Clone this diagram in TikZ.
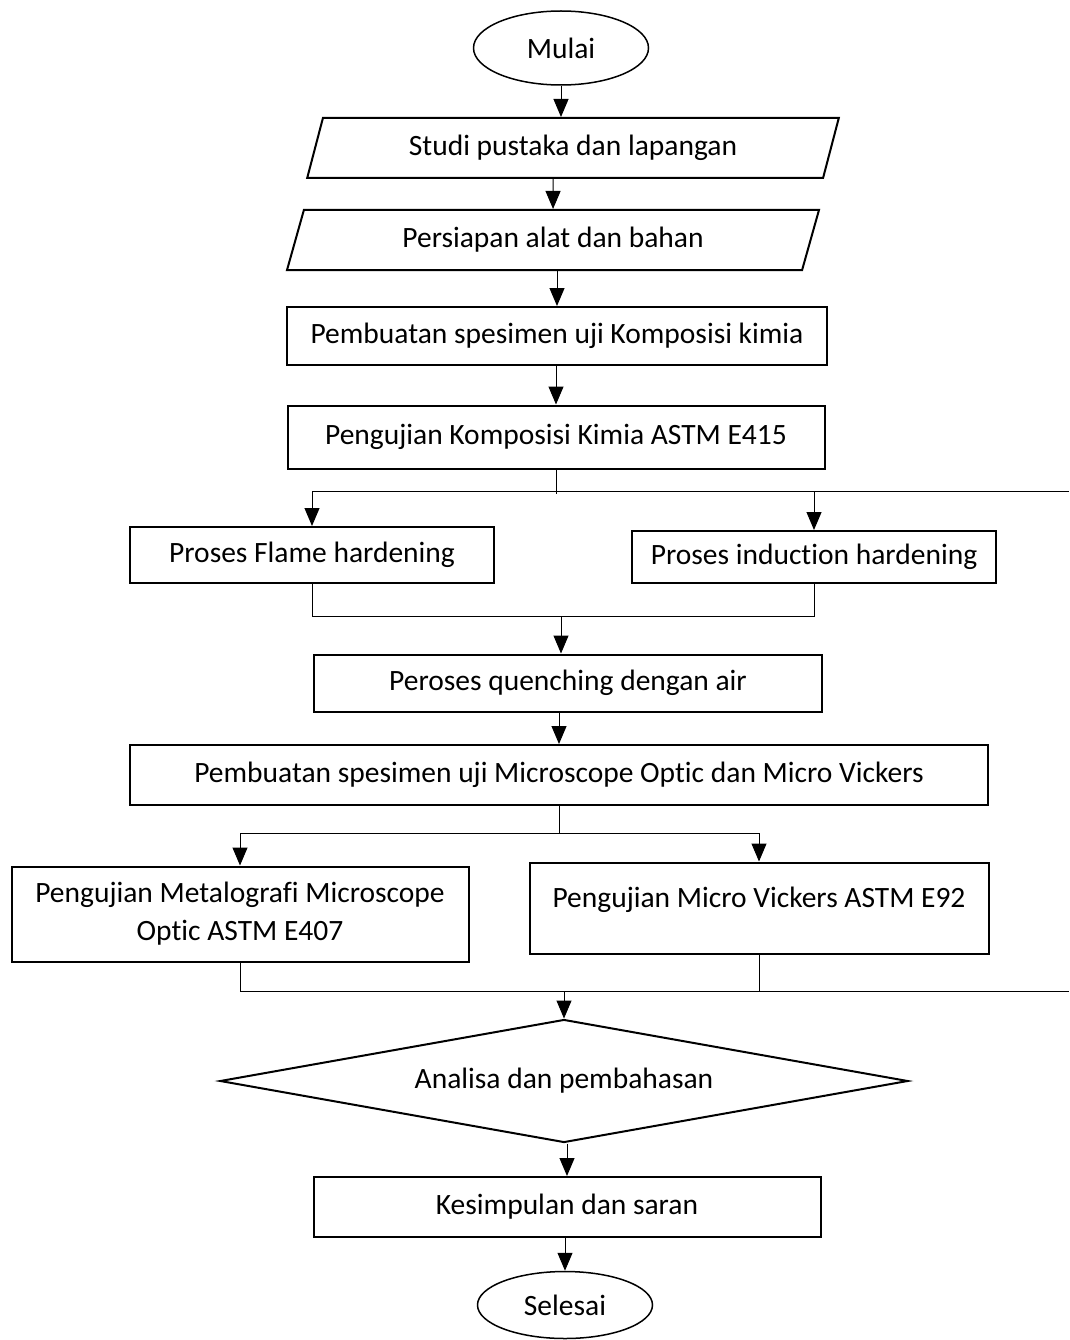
\documentclass[tikz,border=0pt]{standalone}
\usepackage{fontspec}
\setmainfont{Carlito}[Ligatures=NoCommon]
\usetikzlibrary{positioning}
\usetikzlibrary{shapes.geometric}
\usetikzlibrary{arrows.meta}

\begin{document}
\begin{tikzpicture}
[x=1pt,y=-1pt,
 font=\fontsize{29.5}{38}\selectfont,
 terminal/.style={shape=ellipse,draw,line width=1.5pt,minimum width=175pt,minimum height=74pt,inner sep=0pt},
 io/.style={shape=trapezium,trapezium left angle=68,trapezium right angle=112,trapezium stretches=true,draw,line width=2pt,minimum width=534pt,minimum height=60pt,inner sep=0pt},
 process/.style={shape=rectangle,draw,line width=2pt,inner sep=0pt,align=center},
 decision/.style={shape=diamond,aspect=5.6,draw,line width=2pt,minimum width=688pt,minimum height=123pt,inner sep=0pt},
 link/.style={line width=1pt},
 flow/.style={link,-{Triangle[length=18pt,width=15pt]}}]

\useasboundingbox (0,0) rectangle (1069,1340);

\draw (561,48) node (mulai) [terminal] {Mulai};
\draw (573,148) node (studi) [io] {Studi pustaka dan lapangan};
\draw (553,240) node (alat) [io] {Persiapan alat dan bahan};
\draw (557,336) node (spesimen) [process,minimum width=540pt,minimum height=58pt] {Pembuatan spesimen uji Komposisi kimia};
\draw (556,437) node (komposisi) [process,minimum width=537pt,minimum height=63pt] {Pengujian Komposisi Kimia ASTM E415};
\draw (312,555) node (flame) [process,minimum width=364pt,minimum height=56pt] {Proses Flame hardening};
\draw (814,557) node (induksi) [process,minimum width=364pt,minimum height=52pt] {Proses induction hardening};
\draw (568,683) node (quench) [process,minimum width=508pt,minimum height=57pt] {Peroses quenching dengan air};
\draw (559,775) node (spesimen2) [process,minimum width=858pt,minimum height=60pt] {Pembuatan spesimen uji Microscope Optic dan Micro Vickers};
\draw (240,914) node (metal) [process,minimum width=457pt,minimum height=95pt] {Pengujian Metalografi Microscope\\Optic ASTM E407};
\draw (759,908) node (vickers) [process,minimum width=459pt,minimum height=91pt,text depth=22pt] {Pengujian Micro Vickers ASTM E92};
\draw (564,1081) node (analisa) [decision] {Analisa dan pembahasan};
\draw (567,1207) node (kesimpulan) [process,minimum width=507pt,minimum height=60pt] {Kesimpulan dan saran};
\draw (565,1305) node (selesai) [terminal,minimum height=67pt] {Selesai};

\draw [flow] (mulai.south) -- (mulai.south |- studi.north);
\draw [flow] (alat.north |- studi.south) -- (alat);
\draw [flow] (spesimen.north |- alat.south) -- (spesimen);
\draw [flow] (komposisi.north |- spesimen.south) -- (komposisi);

\coordinate (cabang1) at (1069,491);
\draw [link] (komposisi.south) -- ++(0,24);
\draw [flow] (cabang1) -- (flame.north |- cabang1) -- (flame.north);
\draw [flow] (induksi.north |- cabang1) -- (induksi.north);

\draw [link] (flame.south) -- ++(0,32) -| (induksi.south);
\coordinate (gabung1) at (561,617);
\draw [flow] (gabung1) -- (gabung1 |- quench.north);
\draw [flow] (spesimen2.north |- quench.south) -- (spesimen2);

\draw [link] (spesimen2.south) -- ++(0,27) coordinate (cabang2);
\draw [flow] (cabang2) -| (metal.north);
\draw [flow] (cabang2) -| (vickers.north);

\coordinate (tepi2) at (1069,991);
\draw [link] (metal.south) -- (metal.south |- tepi2) -- (tepi2);
\draw [link] (vickers.south) -- (vickers.south |- tepi2);
\draw [flow] (analisa.north |- tepi2) -- (analisa.north);
\draw [flow] (kesimpulan.north |- analisa.south) -- (kesimpulan.north);
\draw [flow] (selesai.north |- kesimpulan.south) -- (selesai.north);

\end{tikzpicture}
\end{document}
